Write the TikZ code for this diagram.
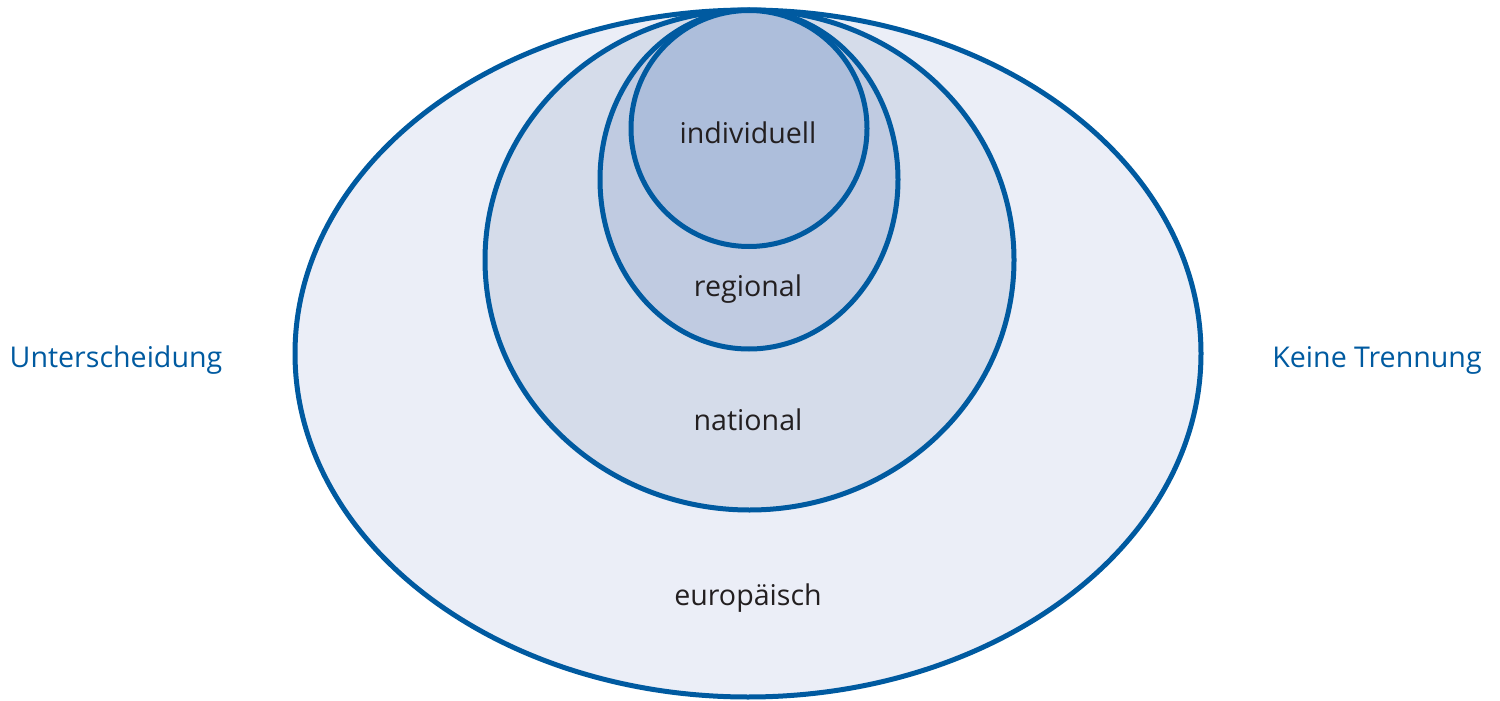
\documentclass[tikz,border=0pt]{standalone}
\usepackage{fontspec}
\setmainfont{Open Sans}
\definecolor{stroke}{RGB}{0,90,160}
\definecolor{fouter}{RGB}{235,238,247}
\definecolor{fnat}{RGB}{213,220,234}
\definecolor{freg}{RGB}{192,203,225}
\definecolor{find}{RGB}{173,190,219}
\definecolor{txt}{RGB}{35,31,32}
\begin{document}
\begin{tikzpicture}[x=0.5pt,y=-0.5pt,
  ring/.style={draw=stroke,line width=2.5pt},
  lbl/.style={text=txt,font=\fontsize{14.3}{16}\selectfont,anchor=center,inner sep=0pt},
  side/.style={text=stroke,font=\fontsize{14.3}{16}\selectfont,anchor=center,inner sep=0pt}]
\useasboundingbox (0,0) rectangle (1500,701);
\path[ring,fill=fouter] (748,353.5) ellipse [x radius=453, y radius=343.5];
\path[ring,fill=fnat] (749.5,260) ellipse [x radius=264.5, y radius=250];
\path[ring,fill=freg] (749,179.5) ellipse [x radius=149, y radius=169.5];
\path[ring,fill=find] (749,128.5) ellipse [x radius=118, y radius=118];
\node[lbl] (ind) at (748,133) {individuell};
\node[lbl] (reg) at (748,289) {regional};
\node[lbl] (nat) at (748,420) {national};
\node[lbl] (eur) at (748,598) {europäisch};
\node[side] (unt) at (116,360) {Unterscheidung};
\node[side] (kei) at (1377,360) {Keine Trennung};
\end{tikzpicture}
\end{document}
